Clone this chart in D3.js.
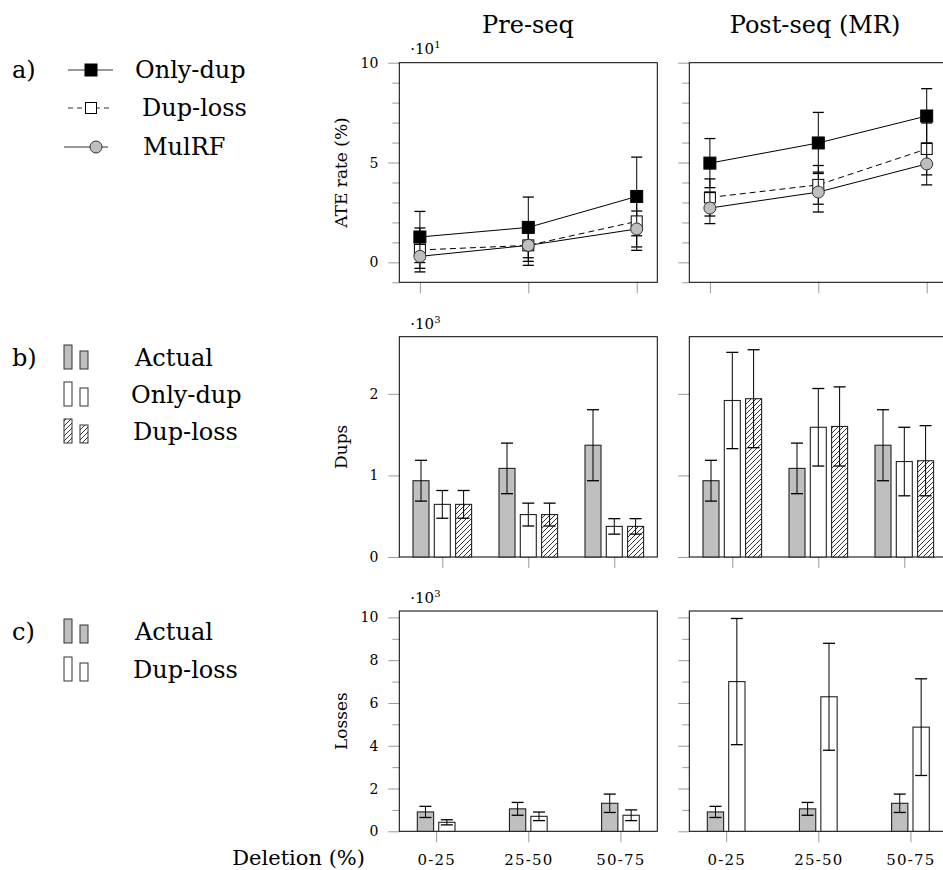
<!DOCTYPE html>
<html><head><meta charset="utf-8">
<script src="https://cdn.jsdelivr.net/npm/d3@7"></script>
<style>body{margin:0;background:#fff} text{font-family:"DejaVu Serif",serif;fill:#000}</style>
</head><body><svg id="c" width="943" height="870"></svg>
<script>
// ---------- data ----------
const categories = ["0-25", "25-50", "50-75"];
const panelTitles = ["Pre-seq", "Post-seq (MR)"];

// a) ATE rate (%)
const ateOnlyDupPre = [12.7, 17.5, 33.0];
const ateOnlyDupPreErr = [12.8, 15.2, 19.7];
const ateDupLossPre = [6.2, 8.5, 20.5];
const ateDupLossPreErr = [11.0, 10.0, 14.5];
const ateMulRFPre = [3.0, 8.5, 16.7];
const ateMulRFPreErr = [6.0, 8.0, 9.0];
const ateOnlyDupPost = [49.7, 59.8, 73.3];
const ateOnlyDupPostErr = [12.3, 15.3, 13.7];
const ateDupLossPost = [32.5, 38.8, 56.8];
const ateDupLossPostErr = [9.3, 9.7, 13.0];
const ateMulRFPost = [27.2, 35.2, 49.3];
const ateMulRFPostErr = [7.8, 10.0, 10.5];

// b) Dups
const dupsActual = [935, 1086, 1370];
const dupsActualErr = [250, 310, 435];
const dupsOnlyDupPre = [645, 520, 375];
const dupsOnlyDupPreErr = [170, 140, 95];
const dupsDupLossPre = [645, 520, 375];
const dupsDupLossPreErr = [170, 140, 95];
const dupsOnlyDupPost = [1918, 1590, 1170];
const dupsOnlyDupPostErr = [590, 475, 420];
const dupsDupLossPost = [1940, 1600, 1180];
const dupsDupLossPostErr = [600, 485, 430];

// c) Losses
const lossActual = [906, 1050, 1310];
const lossActualErr = [260, 300, 430];
const lossDupLossPre = [420, 700, 750];
const lossDupLossPreErr = [120, 200, 250];
const lossDupLossPost = [7000, 6290, 4870];
const lossDupLossPostErr = [2950, 2500, 2260];

const ateMajorTicks = [0, 50, 100];
const dupsMajorTicks = [0, 1000, 2000];
const lossMajorTicks = [0, 2000, 4000, 6000, 8000, 10000];

// ---------- drawing ----------
const svg = d3.select("#c");
const GRAY = "#bfbfbf", TICK = "#9a9a9a";
const PW = 258;
const colX = [399.3, 689.3];

const defs = svg.append("defs");
const pat = defs.append("pattern").attr("id", "hatch").attr("patternUnits", "userSpaceOnUse")
  .attr("width", 5).attr("height", 5);
pat.append("rect").attr("width", 5).attr("height", 5).attr("fill", "#fff");
pat.append("path").attr("d", "M-1,1 L1,-1 M0,5 L5,0 M4,6 L6,4").attr("stroke", "#000").attr("stroke-width", 0.8);

function frame(g, x0, yTop, yBot) {
  g.append("rect").attr("x", x0).attr("y", yTop).attr("width", PW).attr("height", yBot - yTop)
    .attr("fill", "none").attr("stroke", "#000").attr("stroke-width", 1);
}

function yAxes(g, x0, y, major, minor, labels, fmt) {
  const ax = g.append("g").attr("transform", `translate(${x0},0)`);
  const maj = d3.axisLeft(y).tickValues(major).tickSize(11).tickPadding(10)
    .tickFormat(labels ? fmt : "");
  ax.call(maj);
  if (minor) {
    const mi = d3.axisLeft(y).tickValues(minor).tickSize(7).tickFormat("");
    ax.append("g").call(mi);
  }
  ax.selectAll(".domain").remove();
  ax.selectAll("line").attr("stroke", TICK);
  ax.selectAll("text").style("font-family", '"DejaVu Serif",serif').style("font-size", "14px").attr("fill", "#000");
}

function xAxis(g, x, yBot, labels) {
  const ax = g.append("g").attr("transform", `translate(0,${yBot})`)
    .call(d3.axisBottom(x).tickSize(11).tickPadding(12).tickFormat(labels ? (d => d) : ""));
  ax.selectAll(".domain").remove();
  ax.selectAll("line").attr("stroke", TICK);
  ax.selectAll("text").style("font-family", '"DejaVu Serif",serif').style("font-size", "15px")
    .style("letter-spacing", "1.2px").attr("fill", "#000");
}

function errBar(g, cx, y, v, e, cap) {
  g.append("line").attr("x1", cx).attr("x2", cx).attr("y1", y(v - e)).attr("y2", y(v + e))
    .attr("stroke", "#000").attr("stroke-width", 1);
  [v - e, v + e].forEach(t => g.append("line").attr("x1", cx - cap / 2).attr("x2", cx + cap / 2)
    .attr("y1", y(t)).attr("y2", y(t)).attr("stroke", "#000").attr("stroke-width", 1.3));
}

// ---- row a ----
const aTop = 62.7, aBot = 282.3;
const ateSeries = [
  [[ateOnlyDupPre, ateOnlyDupPreErr], [ateDupLossPre, ateDupLossPreErr], [ateMulRFPre, ateMulRFPreErr]],
  [[ateOnlyDupPost, ateOnlyDupPostErr], [ateDupLossPost, ateDupLossPostErr], [ateMulRFPost, ateMulRFPostErr]]
];
const styles = [
  {dash: null, marker: "fsq"}, {dash: "6,4", marker: "osq"}, {dash: null, marker: "circ"}
];
function marker(g, type, cx, cy) {
  if (type === "fsq") g.append("rect").attr("x", cx - 6).attr("y", cy - 6).attr("width", 12).attr("height", 12)
    .attr("fill", "#000").attr("stroke", "#000");
  else if (type === "osq") g.append("rect").attr("x", cx - 5.5).attr("y", cy - 5.5).attr("width", 11).attr("height", 11)
    .attr("fill", "#fff").attr("stroke", "#000").attr("stroke-width", 1);
  else g.append("circle").attr("cx", cx).attr("cy", cy).attr("r", 6)
    .attr("fill", GRAY).attr("stroke", "#333").attr("stroke-width", 1);
}
[0, 1].forEach(col => {
  const x0 = colX[col];
  const g = svg.append("g");
  const x = d3.scalePoint().domain(categories).range([x0, x0 + PW]).padding(0.19);
  const y = d3.scaleLinear().domain([-10, 100]).range([aBot, aTop]);
  yAxes(g, x0, y, ateMajorTicks, d3.range(-10, 101, 10).filter(v => v % 50 !== 0), col === 0, d => d / 10);
  xAxis(g, x, aBot, false);
  frame(g, x0, aTop, aBot);
  ateSeries[col].forEach(([vals, errs], i) => {
    const st = styles[i];
    const line = d3.line().x((d, k) => x(categories[k])).y(d => y(d));
    g.append("path").attr("d", line(vals)).attr("fill", "none").attr("stroke", "#000")
      .attr("stroke-width", 1).attr("stroke-dasharray", st.dash);
    vals.forEach((v, k) => errBar(g, x(categories[k]), y, v, errs[k], 11));
    vals.forEach((v, k) => marker(g, st.marker, x(categories[k]), y(v)));
  });
  if (col === 0) {
    g.append("text").attr("x", x0 + 11).attr("y", aTop - 9).style("font-size", "15px").text("·10")
      .append("tspan").attr("dy", -6).style("font-size", "10px").text("1");
  }
});

// ---- row b ----
const bTop = 336.7, bBot = 557;
const dupSeries = [
  [[dupsActual, dupsActualErr, GRAY], [dupsOnlyDupPre, dupsOnlyDupPreErr, "#fff"], [dupsDupLossPre, dupsDupLossPreErr, "url(#hatch)"]],
  [[dupsActual, dupsActualErr, GRAY], [dupsOnlyDupPost, dupsOnlyDupPostErr, "#fff"], [dupsDupLossPost, dupsDupLossPostErr, "url(#hatch)"]]
];
[0, 1].forEach(col => {
  const x0 = colX[col];
  const g = svg.append("g");
  const x = d3.scalePoint().domain(categories).range([x0, x0 + PW]).padding(0.5);
  const y = d3.scaleLinear().domain([0, 2700]).range([bBot, bTop]);
  yAxes(g, x0, y, dupsMajorTicks, null, col === 0, d => d / 1000);
  xAxis(g, x, bBot, false);
  frame(g, x0, bTop, bBot);
  const offs = [-21.3, 0, 21.3], bw = 16;
  dupSeries[col].forEach(([vals, errs, fill], i) => {
    vals.forEach((v, k) => {
      const cx = x(categories[k]) + offs[i];
      g.append("rect").attr("x", cx - bw / 2).attr("y", y(v)).attr("width", bw).attr("height", y(0) - y(v))
        .attr("fill", fill).attr("stroke", "#222").attr("stroke-width", 1.1);
    });
  });
  dupSeries[col].forEach(([vals, errs], i) => {
    vals.forEach((v, k) => errBar(g, x(categories[k]) + offs[i], y, v, errs[k], 12));
  });
  if (col === 0) {
    g.append("text").attr("x", x0 + 11).attr("y", bTop - 8).style("font-size", "15px").text("·10")
      .append("tspan").attr("dy", -6).style("font-size", "10px").text("3");
  }
});

// ---- row c ----
const cTop = 611, cBot = 831.3;
const lossSeries = [
  [[lossActual, lossActualErr, GRAY], [lossDupLossPre, lossDupLossPreErr, "#fff"]],
  [[lossActual, lossActualErr, GRAY], [lossDupLossPost, lossDupLossPostErr, "#fff"]]
];
[0, 1].forEach(col => {
  const x0 = colX[col];
  const g = svg.append("g");
  const x = d3.scalePoint().domain(categories).range([x0, x0 + PW]).padding(0.4);
  const y = d3.scaleLinear().domain([0, 10300]).range([cBot, cTop]);
  yAxes(g, x0, y, lossMajorTicks, d3.range(1000, 10000, 2000), col === 0, d => d / 1000);
  xAxis(g, x, cBot, true);
  frame(g, x0, cTop, cBot);
  const offs = [-10.7, 10.7], bw = 16.3;
  lossSeries[col].forEach(([vals, errs, fill], i) => {
    vals.forEach((v, k) => {
      const cx = x(categories[k]) + offs[i];
      g.append("rect").attr("x", cx - bw / 2).attr("y", y(v)).attr("width", bw).attr("height", y(0) - y(v))
        .attr("fill", fill).attr("stroke", "#222").attr("stroke-width", 1.1);
    });
  });
  lossSeries[col].forEach(([vals, errs], i) => {
    vals.forEach((v, k) => errBar(g, x(categories[k]) + offs[i], y, v, errs[k], 12));
  });
  if (col === 0) {
    g.append("text").attr("x", x0 + 11).attr("y", cTop - 8).style("font-size", "15px").text("·10")
      .append("tspan").attr("dy", -6).style("font-size", "10px").text("3");
  }
});

// ---- titles & axis labels ----
svg.append("text").attr("x", 528).attr("y", 33).attr("text-anchor", "middle").style("font-size", "24px").text(panelTitles[0]);
svg.append("text").attr("x", 815).attr("y", 33).attr("text-anchor", "middle").style("font-size", "24px").text(panelTitles[1]);
[["ATE rate (%)", (aTop + aBot) / 2], ["Dups", (bTop + bBot) / 2], ["Losses", (cTop + cBot) / 2]].forEach(([t, cy]) => {
  svg.append("text").attr("transform", `translate(347,${cy}) rotate(-90)`).attr("text-anchor", "middle")
    .style("font-size", "17px").text(t);
});
svg.append("text").attr("x", 365).attr("y", 865).attr("text-anchor", "end").style("font-size", "21px").text("Deletion (%)");

// ---- legends ----
const LF = "24px";
svg.append("text").attr("x", 12).attr("y", 78).style("font-size", LF).text("a)");
const legA = [["Only-dup", 70, 135, "fsq", null, 68, 113, 91], ["Dup-loss", 108, 142, "osq", "5,4", 68, 113, 91], ["MulRF", 147, 143, "circ", null, 64, 108, 96]];
legA.forEach(([t, cy, tx, m, dash, lx1, lx2, mx]) => {
  svg.append("line").attr("x1", lx1).attr("x2", lx2).attr("y1", cy).attr("y2", cy)
    .attr("stroke", "#333").attr("stroke-width", 1.2).attr("stroke-dasharray", dash);
  marker(svg, m, mx, cy);
  svg.append("text").attr("x", tx).attr("y", cy + 8).style("font-size", LF).text(t);
});
function barIcon(top, fill) {
  svg.append("rect").attr("x", 64).attr("y", top).attr("width", 8).attr("height", 24).attr("fill", fill).attr("stroke", "#333");
  svg.append("rect").attr("x", 80).attr("y", top + 6).attr("width", 8).attr("height", 18).attr("fill", fill).attr("stroke", "#333");
}
svg.append("text").attr("x", 12).attr("y", 366).style("font-size", LF).text("b)");
[["Actual", 358, 135, GRAY], ["Only-dup", 395, 131, "#fff"], ["Dup-loss", 432, 133, "url(#hatch)"]].forEach(([t, cy, tx, f]) => {
  barIcon(cy - 13, f);
  svg.append("text").attr("x", tx).attr("y", cy + 8).style("font-size", LF).text(t);
});
svg.append("text").attr("x", 12).attr("y", 640).style("font-size", LF).text("c)");
[["Actual", 632, 135, GRAY], ["Dup-loss", 670, 133, "#fff"]].forEach(([t, cy, tx, f]) => {
  barIcon(cy - 13, f);
  svg.append("text").attr("x", tx).attr("y", cy + 8).style("font-size", LF).text(t);
});
</script></body></html>
